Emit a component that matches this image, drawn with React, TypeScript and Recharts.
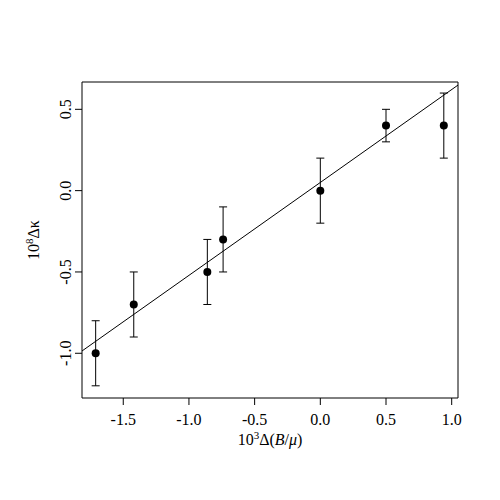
import { ComposedChart, Scatter, Line, XAxis, YAxis, ErrorBar, ReferenceArea, Label } from "recharts";

const xValues = [-1.71, -1.42, -0.86, -0.74, 0.0, 0.5, 0.94];
const yValues = [-1.0, -0.7, -0.5, -0.3, 0.0, 0.4, 0.4];
const yErrors = [0.2, 0.2, 0.2, 0.2, 0.2, 0.1, 0.2];

// fitted line, endpoints at the frame edges
const fitX = [-1.814, 1.048];
const fitY = [-0.986, 0.649];

const xTicks = [-1.5, -1.0, -0.5, 0.0, 0.5, 1.0];
const yTicks = [-1.0, -0.5, 0.0, 0.5];
const xDomain = [-1.814, 1.048];
const yDomain = [-1.275, 0.668];

const points = xValues.map((x, i) => ({ x, y: yValues[i], err: yErrors[i] }));
const fitLine = fitX.map((x, i) => ({ x, y: fitY[i] }));

const FONT = "'Liberation Serif', serif";

function YTick({ x, y, payload }: any) {
  return (
    <text
      x={x}
      y={y}
      transform={`rotate(-90 ${x} ${y})`}
      textAnchor="middle"
      fontFamily={FONT}
      fontSize={16}
      fill="#000"
    >
      {payload.value.toFixed(1)}
    </text>
  );
}

function Dot({ cx, cy }: any) {
  return <circle cx={cx} cy={cy} r={4} fill="#000" />;
}

export default function App() {
  return (
    <ComposedChart
      width={500}
      height={500}
      margin={{ top: 74, right: 50, bottom: 80, left: 34 }}
      style={{ background: "#fff" }}
    >
      <XAxis
        type="number"
        dataKey="x"
        domain={xDomain}
        ticks={xTicks}
        allowDataOverflow
        tickFormatter={(v: number) => v.toFixed(1)}
        tickSize={7}
        tickMargin={9}
        axisLine={false}
        tick={{ fill: "#000", fontFamily: FONT, fontSize: 16 }}
        tickLine={{ stroke: "#000" }}
        height={30}
      >
        <Label
          content={({ viewBox }: any) => (
            <text
              x={viewBox.x + viewBox.width / 2}
              y={437}
              textAnchor="middle"
              fontFamily={FONT}
              fontSize={16}
              fill="#000"
            >
              10
              <tspan dy={-6} fontSize={11}>3</tspan>
              <tspan dy={6}>Δ(</tspan>
              <tspan fontStyle="italic">B</tspan>
              <tspan>/</tspan>
              <tspan fontStyle="italic">μ</tspan>
              <tspan>)</tspan>
            </text>
          )}
        />
      </XAxis>
      <YAxis
        type="number"
        dataKey="y"
        domain={yDomain}
        ticks={yTicks}
        allowDataOverflow
        tickSize={7}
        tickMargin={4}
        axisLine={false}
        tick={<YTick />}
        tickLine={{ stroke: "#000" }}
        width={40}
      >
        <Label
          content={({ viewBox }: any) => {
            const cy = viewBox.y + viewBox.height / 2;
            return (
              <text
                x={31}
                y={cy}
                transform={`rotate(-90 31 ${cy})`}
                textAnchor="middle"
                fontFamily={FONT}
                fontSize={16}
                fill="#000"
              >
                10
                <tspan dy={-6} fontSize={11}>8</tspan>
                <tspan dy={6}>Δκ</tspan>
              </text>
            );
          }}
        />
      </YAxis>
      <ReferenceArea
        x1={xDomain[0]}
        x2={xDomain[1]}
        y1={yDomain[0]}
        y2={yDomain[1]}
        fill="none"
        stroke="#000"
        strokeWidth={1}
        ifOverflow="visible"
      />
      <Line
        data={fitLine}
        dataKey="y"
        type="linear"
        stroke="#000"
        strokeWidth={1}
        dot={false}
        activeDot={false}
        isAnimationActive={false}
      />
      <Scatter data={points} dataKey="y" shape={<Dot />} isAnimationActive={false}>
        <ErrorBar dataKey="err" direction="y" width={4} stroke="#000" strokeWidth={1} />
      </Scatter>
    </ComposedChart>
  );
}
